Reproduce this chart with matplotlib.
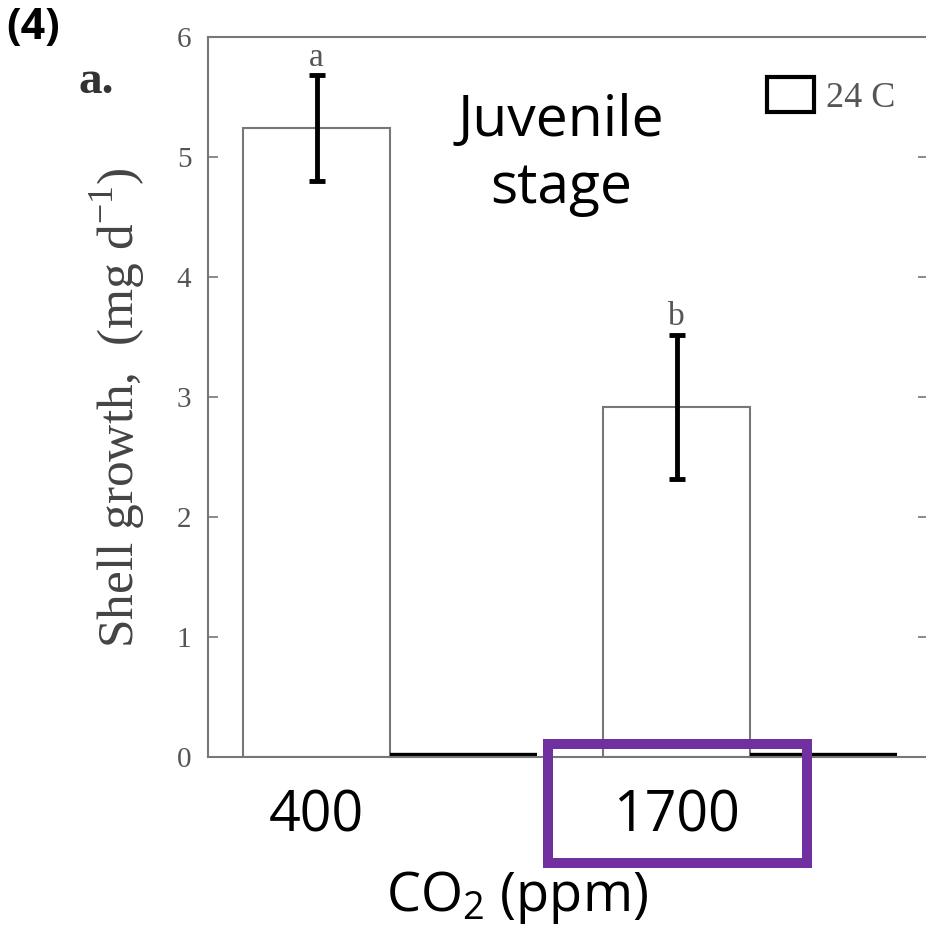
import numpy as np
import matplotlib
matplotlib.use("Agg")
import matplotlib.pyplot as plt
from matplotlib.patches import Patch, Rectangle

plt.rcParams['mathtext.fontset'] = 'custom'
plt.rcParams['mathtext.rm'] = 'Liberation Serif'
plt.rcParams['mathtext.sf'] = 'Open Sans'

# dados
co2_levels = ["400", "1700"]
growth_24c = [5.24, 2.92]
growth_err = [0.44, 0.60]
sig_letters = ["a", "b"]
growth_hidden = [0.0, 0.0]   # serie da outra temperatura, coberta na figura original

W, H = 926, 933
fig = plt.figure(figsize=(W / 100, H / 100), dpi=100)
ax = fig.add_axes([208 / W, 1 - 757 / H, 720 / W, 720 / H])

x = np.arange(len(co2_levels))
w = 0.408
ax.bar(x - w / 2, growth_24c, w, yerr=growth_err, color='white',
       edgecolor='#777777', linewidth=1.5, zorder=2,
       error_kw=dict(ecolor='black', elinewidth=3.5, capsize=6, capthick=3.5, zorder=3))
ax.bar(x + w / 2, growth_hidden, w, color='white', edgecolor='black', linewidth=6, zorder=2)

for xi, val, err, let in zip(x - w / 2, growth_24c, growth_err, sig_letters):
    ax.text(xi, val + err + 0.08, let, ha='center', va='baseline',
            fontsize=24, family='Liberation Serif', color='#555555')

ax.set_xlim(-0.5056, 1.4944)
ax.set_ylim(0, 6)
ax.set_yticks(range(7))
for s in ax.spines.values():
    s.set_color('#777777')
    s.set_linewidth(1.5)

ax.tick_params(axis='y', direction='in', length=7, width=1.2, color='#777777',
               right=True, labelsize=21, labelcolor='#555555', pad=12,
               labelfontfamily='Liberation Serif')
ax.set_xticks(x - w / 2, co2_levels)
ax.tick_params(axis='x', length=0, pad=23, labelsize=40, labelcolor='black',
               labelfontfamily='Open Sans')

ax.set_xlabel(r"CO$_\mathsf{2}$ (ppm)", fontsize=39, family='Open Sans', color='black')
ax.xaxis.set_label_coords(0.429, -0.155)
ax.set_ylabel(r"Shell growth,  (mg d$^{\mathrm{-1}}$)", fontsize=37,
              family='Liberation Serif', color='#444444', va='center')
ax.yaxis.set_label_coords(-0.125, 0.485)

ax.text(0.49, 0.922, "Juvenile\nstage", transform=ax.transAxes, ha='center', va='top',
        fontsize=41, family='Open Sans', linespacing=1.22)

leg = ax.legend(handles=[Patch(facecolor='white', edgecolor='black', linewidth=3, label='24 C')],
                loc='upper left', bbox_to_anchor=(0.776, 0.945), frameon=False,
                borderpad=0, borderaxespad=0, handlelength=1.3, handleheight=1.15,
                handletextpad=0.35, prop={'family': 'Liberation Serif', 'size': 26})
for t in leg.get_texts():
    t.set_color('#555555')

fig.text(6 / W, 1 - 6 / H, "(4)", ha='left', va='top', fontsize=31,
         fontweight='bold', family='Open Sans')
fig.text(79 / W, 1 - 93 / H, "a.", ha='left', va='baseline', fontsize=34,
         fontweight='bold', family='Liberation Serif', color='#333333')

fig.add_artist(Rectangle((548 / W, 1 - 863 / H), 259 / W, 119 / H, transform=fig.transFigure,
                         fill=False, edgecolor='#7030A0', linewidth=7.2))

fig.savefig("out.png", dpi=100)
